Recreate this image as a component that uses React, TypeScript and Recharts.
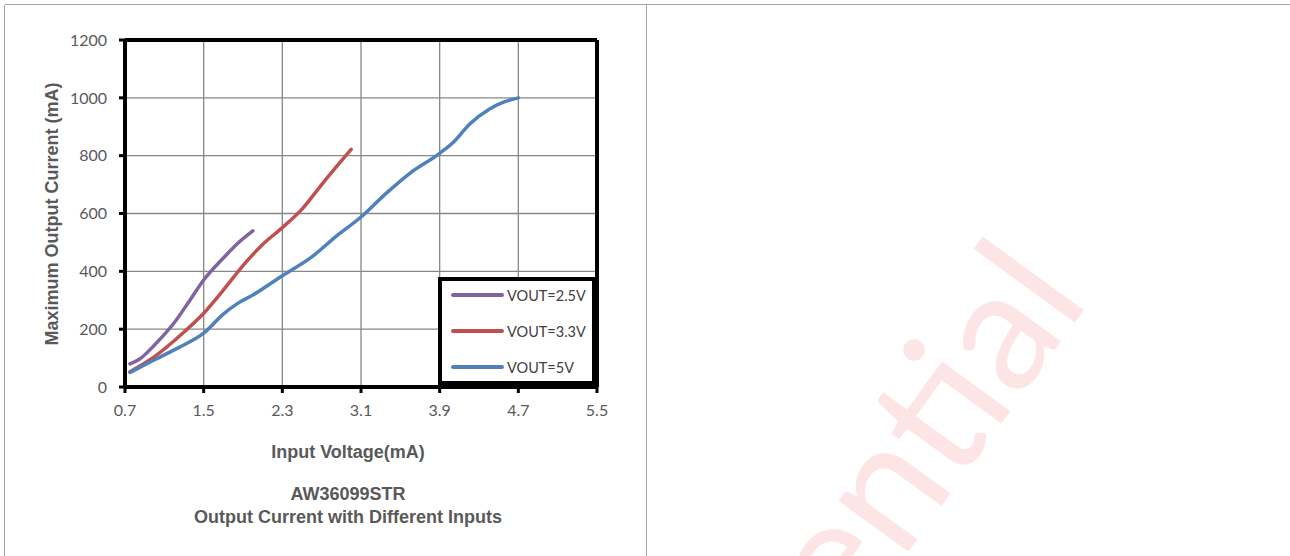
import React from 'react';
import { LineChart, Line, XAxis, YAxis, CartesianGrid, ReferenceLine, Legend } from 'recharts';

// values
const v25Input = [0.75, 0.85, 1.0, 1.2, 1.35, 1.5, 1.7, 1.85, 2.0];
const v25Current = [80, 97, 145, 222, 295, 370, 446, 498, 540];

const v33Input = [0.75, 1.0, 1.3, 1.5, 1.7, 1.9, 2.1, 2.3, 2.5, 2.7, 2.85, 3.0];
const v33Current = [53, 105, 190, 255, 335, 420, 493, 551, 615, 700, 762, 822];

const v5Input = [0.75, 1.0, 1.25, 1.5, 1.7, 1.85, 2.0, 2.3, 2.6, 2.85, 3.1, 3.35, 3.6, 3.9, 4.05, 4.2, 4.4, 4.55, 4.7];
const v5Current = [50, 94, 137, 186, 252, 290, 318, 385, 450, 522, 588, 668, 740, 808, 850, 908, 960, 985, 1000];

const xTicks = [0.7, 1.5, 2.3, 3.1, 3.9, 4.7, 5.5];
const yTicks = [0, 200, 400, 600, 800, 1000, 1200];

const seriesNames = ['VOUT=2.5V', 'VOUT=3.3V', 'VOUT=5V'];
const seriesColors = ['#8064A2', '#C0504D', '#4F81BD'];

const toPoints = (xs: number[], ys: number[]) => xs.map((v, i) => ({ v, i: ys[i] }));

const series = [
  toPoints(v25Input, v25Current),
  toPoints(v33Input, v33Current),
  toPoints(v5Input, v5Current),
];

const tickStyle = { fill: '#595959', fontSize: 16, fontFamily: 'Lato' };
const titleStyle = { fill: '#595959', fontSize: 18, fontWeight: 700, fontFamily: '"Liberation Sans", Arial' };

const LegendBox = () => (
  <div
    style={{
      width: 150,
      height: 100,
      border: '4px solid #000',
      background: '#fff',
      boxSizing: 'content-box',
    }}
  >
    {seriesNames.map((name, idx) => (
      <div
        key={name}
        style={{
          display: 'flex',
          alignItems: 'center',
          height: 36,
          marginTop: idx === 0 ? -4 : 0,
          paddingLeft: 9,
        }}
      >
        <span
          style={{
            display: 'inline-block',
            width: 53,
            height: 4,
            borderRadius: 2,
            background: seriesColors[idx],
            marginRight: 3,
          }}
        />
        <span style={{ fontFamily: 'Lato', fontSize: 14.5, color: '#404040' }}>{name}</span>
      </div>
    ))}
  </div>
);

export default function App() {
  return (
    <div style={{ position: 'absolute', left: 0, top: 0, width: 1290, height: 556, background: '#fff', overflow: 'hidden' }}>
      <svg width={1290} height={556} style={{ position: 'absolute', left: 0, top: 0 }}>
        <g stroke="#a6a6a6" strokeWidth={1} shapeRendering="crispEdges">
          <line x1={4.5} y1={4.5} x2={1290} y2={4.5} />
          <line x1={4.5} y1={4.5} x2={4.5} y2={556} />
          <line x1={646.5} y1={4.5} x2={646.5} y2={556} />
        </g>
        <text
          x={1091}
          y={300}
          textAnchor="end"
          transform="rotate(-54 1091 300)"
          fill="#fde4e5"
          fontSize={170}
          fontFamily="Lato"
        >
          Confidential
        </text>
        <text transform="translate(58 214) rotate(-90)" textAnchor="middle" {...titleStyle}>
          Maximum Output Current (mA)
        </text>
        <text x={348} y={458} textAnchor="middle" {...titleStyle}>
          Input Voltage(mA)
        </text>
        <text x={348} y={500} textAnchor="middle" {...titleStyle}>
          AW36099STR
        </text>
        <text x={348} y={523} textAnchor="middle" {...titleStyle}>
          Output Current with Different Inputs
        </text>
      </svg>
      <div style={{ position: 'absolute', left: 0, top: 0 }}>
        <LineChart width={648} height={556} margin={{ top: 40, right: 51, bottom: 139, left: 65 }}>
          <CartesianGrid stroke="#878787" strokeWidth={1.3} />
          <XAxis
            type="number"
            dataKey="v"
            domain={[0.7, 5.5]}
            ticks={xTicks}
            height={30}
            axisLine={{ stroke: '#000', strokeWidth: 4 }}
            tickLine={{ stroke: '#000', strokeWidth: 3 }}
            tickSize={6}
            tickMargin={12}
            tick={tickStyle}
            interval={0}
          />
          <YAxis
            type="number"
            domain={[0, 1200]}
            ticks={yTicks}
            width={60}
            axisLine={{ stroke: '#000', strokeWidth: 4 }}
            tickLine={{ stroke: '#000', strokeWidth: 3 }}
            tickSize={6}
            tickMargin={12}
            tick={tickStyle}
            interval={0}
          />
          <ReferenceLine y={1200} stroke="#000" strokeWidth={4} />
          <ReferenceLine x={5.5} stroke="#000" strokeWidth={4} />
          {series.map((pts, idx) => (
            <Line
              key={seriesNames[idx]}
              data={pts}
              dataKey="i"
              name={seriesNames[idx]}
              type="monotone"
              stroke={seriesColors[idx]}
              strokeWidth={3.5}
              strokeLinecap="round"
              dot={false}
              activeDot={false}
              isAnimationActive={false}
            />
          ))}
          <Legend
            layout="vertical"
            align="center"
            verticalAlign="middle"
            wrapperStyle={{ left: 438, top: 277, width: 158 }}
            content={<LegendBox />}
          />
        </LineChart>
      </div>
    </div>
  );
}
